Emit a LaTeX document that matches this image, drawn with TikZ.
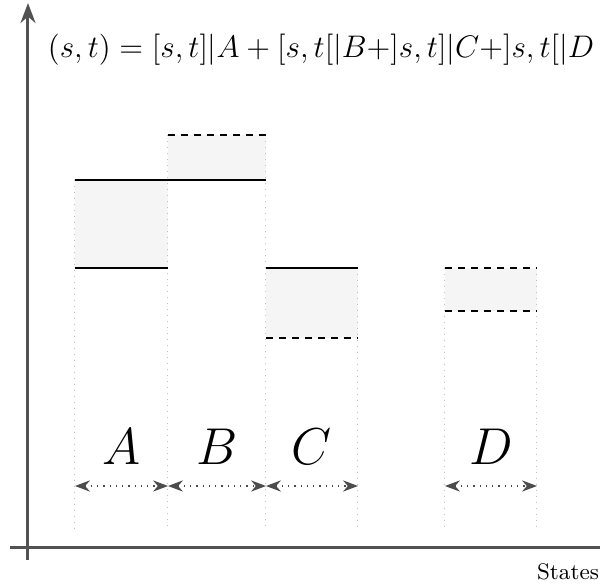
\documentclass[tikz,border=0pt]{standalone}
\usetikzlibrary{arrows.meta}
\begin{document}
\begin{tikzpicture}[x=0.4pt,y=-0.4pt,
  axis/.style={draw=black!68,line width=1.2pt},
  band/.style={fill=black!4,draw=none},
  solidline/.style={draw=black,line width=0.8pt},
  dashline/.style={draw=black,line width=0.8pt,dash pattern=on 3pt off 2.2pt},
  guide/.style={draw=black!25,line width=0.4pt,dotted},
  span/.style={draw=black!70,line width=0.5pt,dotted,{Stealth[length=6pt,width=4.5pt]}-{Stealth[length=6pt,width=4.5pt]}},
  lab/.style={font=\huge,inner sep=0pt}]
\useasboundingbox (0,0) rectangle (603,588);
% columns
\foreach \n/\x in {a/75,b/168,c/266,d/358,e/445,f/537}{
  \coordinate (\n) at (\x,486);
}
% bands
\fill[band] (75,180) rectangle (168,268);
\fill[band] (168,135) rectangle (266,180);
\fill[band] (266,268) rectangle (358,338);
\fill[band] (445,268) rectangle (537,311);
% guides
\draw[guide] (75,180) -- (75,530);
\draw[guide] (168,135) -- (168,530);
\draw[guide] (266,135) -- (266,530);
\draw[guide] (358,268) -- (358,530);
\draw[guide] (445,268) -- (445,530);
\draw[guide] (537,268) -- (537,530);
% levels
\draw[solidline] (75,180) -- (168,180);
\draw[solidline] (75,268) -- (168,268);
\draw[dashline] (168,135) -- (266,135);
\draw[solidline] (168,180) -- (266,180);
\draw[solidline] (266,268) -- (358,268);
\draw[dashline] (266,338) -- (358,338);
\draw[dashline] (445,268) -- (537,268);
\draw[dashline] (445,311) -- (537,311);
% spans
\draw[span] (a) -- (b);
\draw[span] (b) -- (c);
\draw[span] (c) -- (d);
\draw[span] (e) -- (f);
% labels
\node[lab] (la) at (122,447) {$A$};
\node[lab] (lb) at (217,447) {$B$};
\node[lab] (lc) at (312,447) {$C$};
\node[lab] (ld) at (491,447) {$D$};
% axes
\coordinate (xs) at (10,547);
\coordinate (xe) at (600,547);
\coordinate (ys) at (28,560);
\coordinate (ye) at (28,3);
\draw[axis] (xs) -- (xe);
\draw[axis,-{Stealth[length=8pt,width=6pt]}] (ys) -- (ye);
\node[inner sep=0pt,scale=1.04,font=\large] (formula) at (321,50) {$(s,t)=[s,t]|A+[s,t[|B+]s,t]|C+]s,t[|D$};
\node[inner sep=0pt,font=\small] (states) at (568,572) {States};
\end{tikzpicture}
\end{document}
